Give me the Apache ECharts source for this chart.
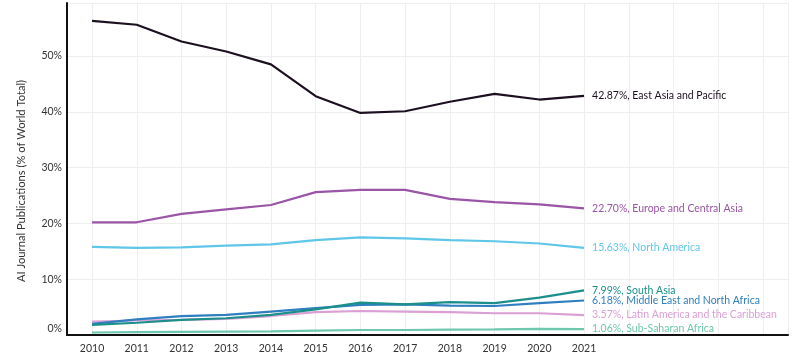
<!DOCTYPE html>
<html><head><meta charset="utf-8">
<script src="https://cdn.jsdelivr.net/npm/echarts@6/dist/echarts.min.js"></script>
<style>html,body{margin:0;padding:0;background:#fff}#c{width:800px;height:358px}</style>
</head><body><div id="c"></div>
<script>
const years = [2010,2011,2012,2013,2014,2015,2016,2017,2018,2019,2020,2021];
const eastAsia     = [56.3,55.6,52.6,50.8,48.5,42.8,39.8,40.1,41.8,43.2,42.2,42.87];
const europe       = [20.2,20.2,21.7,22.5,23.3,25.6,26.0,26.0,24.4,23.8,23.4,22.70];
const northAmerica = [15.8,15.6,15.7,16.0,16.25,17.0,17.5,17.3,17.0,16.8,16.4,15.63];
const southAsia    = [1.8,2.2,2.7,3.0,3.6,4.6,5.8,5.5,5.9,5.7,6.7,7.99];
const mena         = [2.0,2.8,3.4,3.6,4.2,4.8,5.4,5.5,5.25,5.2,5.7,6.18];
const latinAmerica = [2.4,2.6,2.7,2.9,3.4,4.1,4.3,4.2,4.1,3.9,3.9,3.57];
const subSaharan   = [0.45,0.5,0.55,0.6,0.65,0.8,0.9,0.9,0.95,1.0,1.1,1.06];
const seriesNames = ['East Asia and Pacific','Europe and Central Asia','North America','South Asia','Middle East and North Africa','Latin America and the Caribbean','Sub-Saharan Africa'];
const seriesValues = [eastAsia, europe, northAmerica, southAsia, mena, latinAmerica, subSaharan];
const colors = ['#1c1020','#9a55a6','#5fc6e8','#1b8f8b','#2f7fc0','#dc9fd4','#6fc8ae'];
const yTicks = [0,10,20,30,40,50];

const FONT = 'Lato';
const chart = echarts.init(document.getElementById('c'), null, {renderer:'canvas'});
chart.setOption({
  animation:false,
  textStyle:{fontFamily:FONT},
  grid:{left:67, right:12, top:3, bottom:23, containLabel:false},
  xAxis:{
    type:'value', min:2009.44, max:2025.56, splitNumber:16, minInterval:1, maxInterval:1,
    axisLine:{show:true, lineStyle:{color:'#111', width:2}},
    axisTick:{show:false},
    splitLine:{show:true, lineStyle:{color:'#eeeeee', width:1}},
    axisLabel:{
      color:'#333', fontSize:10.5, fontFamily:FONT, margin:8,
      showMinLabel:false, showMaxLabel:false,
      formatter:function(v){ return (Number.isInteger(v) && v>=years[0] && v<=years[years.length-1]) ? String(v) : ''; }
    }
  },
  yAxis:{
    type:'value', min:0, max:59.5, interval:10,
    name:'AI Journal Publications (% of World Total)', nameLocation:'middle', nameGap:40,
    nameTextStyle:{color:'#333', fontSize:11.2, fontFamily:FONT, padding:[0,24,0,0]},
    axisLine:{show:true, lineStyle:{color:'#111', width:2}},
    axisTick:{show:false},
    splitLine:{show:true, lineStyle:{color:'#eeeeee', width:1}},
    axisLabel:{
      color:'#333', fontSize:10.5, fontFamily:FONT, margin:5,
      formatter:function(v){ return yTicks.indexOf(v)>=0 ? (v===0 ? '{z|0%}' : v+'%') : ''; },
      rich:{z:{color:'#333', fontSize:10.5, fontFamily:FONT, padding:[0,0,12,0]}}
    }
  },
  series: seriesNames.map(function(name,i){
    return {
      name:name, type:'line', symbol:'none', smooth:false,
      data: years.map(function(y,j){ return [y, seriesValues[i][j]]; }),
      lineStyle:{color:colors[i], width:2.2},
      itemStyle:{color:colors[i]},
      z: 10-i,
      endLabel:{
        show:true, distance:8, color:colors[i], fontSize:10.5, fontFamily:FONT,
        formatter:function(p){ return seriesValues[i][seriesValues[i].length-1].toFixed(2)+'%, '+name; }
      }
    };
  })
});
</script></body></html>
